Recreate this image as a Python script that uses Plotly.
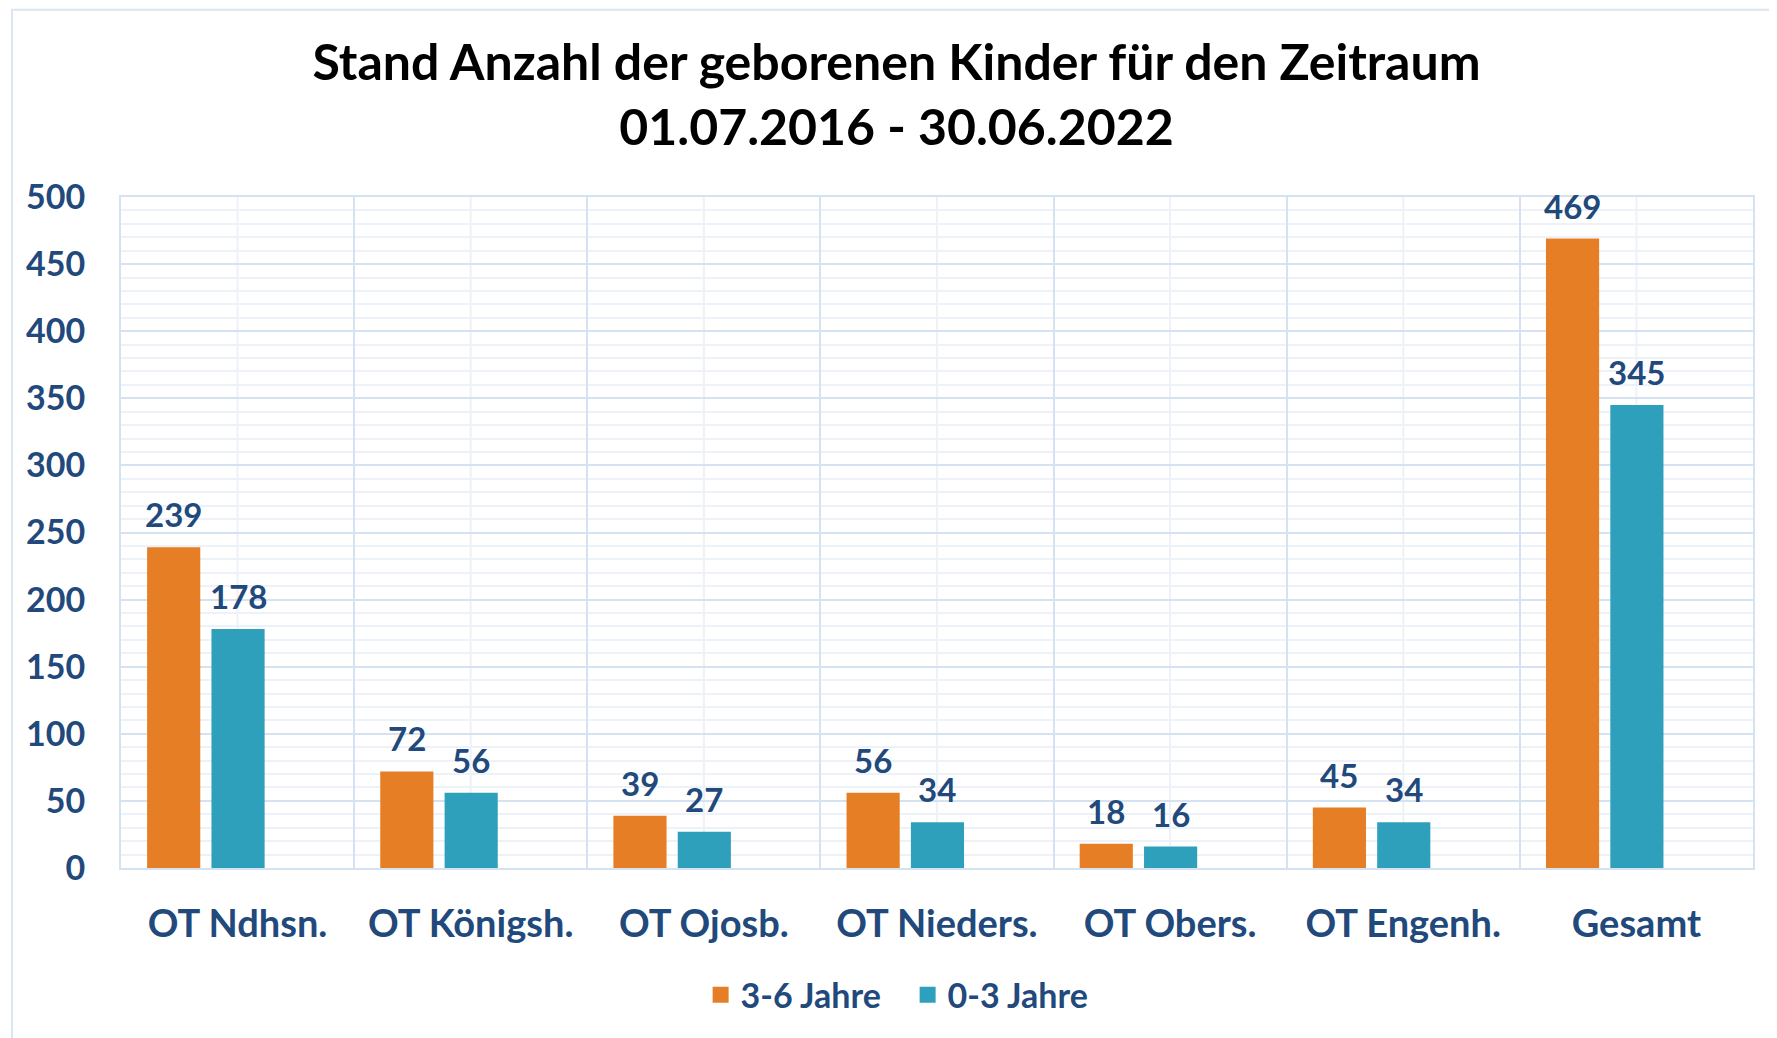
import plotly.graph_objects as go

categories = ["OT Ndhsn.", "OT Königsh.", "OT Ojosb.", "OT Nieders.", "OT Obers.", "OT Engenh.", "Gesamt"]
series_names = ["3-6 Jahre", "0-3 Jahre"]
values_3_6 = [239, 72, 39, 56, 18, 45, 469]
values_0_3 = [178, 56, 27, 34, 16, 34, 345]
y_ticks = [0, 50, 100, 150, 200, 250, 300, 350, 400, 450, 500]

TXT = "#22497B"
FONT = "Lato"
MAJOR = "#D5E2F2"
MINOR = "#EDF2F9"
ORANGE = "#E67E25"
BLUE = "#2FA0BC"

ML, MR, MT, MB = 113, 32, 189, 178
W, H = 1777, 1038
BAR_W = 0.228
OFFSETS = [-0.388, -0.112]
cat_px = (W - ML - MR) / len(categories)

fig = go.Figure()
for vals, col, off in zip([values_3_6, values_0_3], [ORANGE, BLUE], OFFSETS):
    fig.add_trace(go.Bar(
        x=categories, y=vals, showlegend=False,
        marker=dict(color=col, line=dict(width=0)),
        width=BAR_W, offset=off,
    ))
    # value labels above bars
    for c, v in zip(categories, vals):
        fig.add_annotation(
            x=c, y=v, xref="x", yref="y", text=str(v), showarrow=False,
            xshift=(off + BAR_W / 2) * cat_px, yshift=33, yanchor="middle",
            font=dict(family=FONT, size=33, color=TXT, weight="bold"),
        )

# legend entries with larger square symbols
for name, col in zip(series_names, [ORANGE, BLUE]):
    fig.add_trace(go.Scatter(
        x=[None], y=[None], mode="markers", name=name,
        marker=dict(symbol="square", size=22, color=col),
    ))

# lighter vertical lines at category centres
for c in categories:
    fig.add_shape(type="line", xref="x", yref="paper", x0=c, x1=c, y0=0, y1=1,
                  line=dict(color=MINOR, width=2), layer="below")

# outer chart border (open to the right and bottom like the reference)
fig.add_shape(type="rect", xref="paper", yref="paper", x0=-0.0668, x1=1.05, y0=-0.30, y1=1.279,
              line=dict(color="#DCE6F2", width=2), layer="below")

fig.update_layout(
    width=W, height=H,
    paper_bgcolor="white", plot_bgcolor="white",
    margin=dict(l=ML, r=MR, t=MT, b=MB, autoexpand=False),
    barmode="group",
    title=dict(
        text="Stand Anzahl der geborenen Kinder für den Zeitraum<br>01.07.2016 - 30.06.2022",
        x=0.5, xref="container", xanchor="center",
        y=0.931, yref="container", yanchor="middle",
        font=dict(family=FONT, size=50, color="black", weight="bold"),
    ),
    font=dict(family=FONT, color=TXT),
    showlegend=True,
    legend=dict(
        orientation="h", xref="paper", x=0.482, xanchor="center",
        yref="container", y=0.049, yanchor="middle",
        font=dict(family=FONT, size=34, color=TXT, weight="bold"),
        itemwidth=30, tracegroupgap=0, entrywidth=162, entrywidthmode="pixels",
    ),
    xaxis=dict(
        type="category", tickson="boundaries", showgrid=True, gridcolor=MAJOR, gridwidth=2,
        showline=True, linecolor=MAJOR, linewidth=2, mirror=True,
        ticks="", ticklabelstandoff=21, tickangle=0,
        tickfont=dict(family=FONT, size=38, color=TXT, weight="bold"),
        range=[-0.5, 6.5],
    ),
    yaxis=dict(
        range=[0, 500], tickvals=y_ticks, showgrid=True, gridcolor=MAJOR, gridwidth=2,
        showline=True, linecolor=MAJOR, linewidth=2, mirror=True,
        zeroline=False, ticks="", ticklabelstandoff=27,
        tickfont=dict(family=FONT, size=34, color=TXT, weight="bold"),
        minor=dict(dtick=10, showgrid=True, gridcolor=MINOR, gridwidth=2),
    ),
)

fig.write_html("out.html")
